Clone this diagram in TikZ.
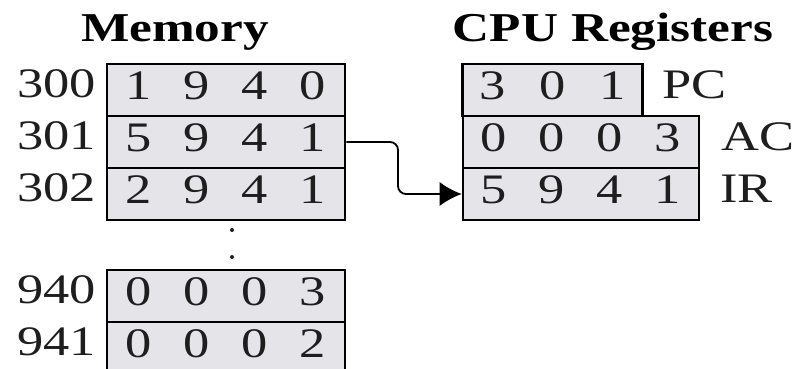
\documentclass[tikz,border=0pt]{standalone}
\usepackage{fontspec}
\setmainfont{Liberation Serif}[FakeStretch=1.25]
\usetikzlibrary{arrows.meta}
\definecolor{cellfill}{RGB}{229,228,232}
\definecolor{ink}{RGB}{30,30,30}
\begin{document}
\begin{tikzpicture}[x=1pt,y=-1pt,
  font=\fontsize{42}{48}\selectfont,
  cell/.style={draw=black, line width=2.6pt, fill=cellfill, inner sep=0pt, minimum height=52pt, text depth=8pt, text=ink},
  addr/.style={anchor=east, inner sep=0pt, text=ink},
  reglabel/.style={anchor=west, inner sep=0pt, text=ink},
  title/.style={inner sep=0pt, font=\fontsize{41}{48}\selectfont\bfseries}]
\useasboundingbox (0,0) rectangle (793,368);
\clip (0,0) rectangle (793,368);
\newcommand\dgts[2]{\makebox[#1pt]{#2}}
% titles
\node[title] (memtitle) at (175,32) {Memory};
\node[title] (cputitle) at (613,32) {CPU Registers};
% memory rows
\node[cell, minimum width=238pt] (m300) at (226,90) {\dgts{58}{1}\dgts{58}{9}\dgts{58}{4}\dgts{58}{0}};
\node[cell, minimum width=238pt] (m301) at (226,142) {\dgts{58}{5}\dgts{58}{9}\dgts{58}{4}\dgts{58}{1}};
\node[cell, minimum width=238pt] (m302) at (226,194) {\dgts{58}{2}\dgts{58}{9}\dgts{58}{4}\dgts{58}{1}};
\node[cell, minimum width=238pt] (m940) at (226,296) {\dgts{58}{0}\dgts{58}{0}\dgts{58}{0}\dgts{58}{3}};
\node[cell, minimum width=238pt] (m941) at (226,348) {\dgts{58}{0}\dgts{58}{0}\dgts{58}{0}\dgts{58}{2}};
% addresses
\node[addr] (a300) at (96,84) {300};
\node[addr] (a301) at (96,136) {301};
\node[addr] (a302) at (96,188) {302};
\node[addr] (a940) at (96,290) {940};
\node[addr] (a941) at (96,342) {941};
% ellipsis dots
\fill[ink] (232,230) circle (2pt);
\fill[ink] (232,257) circle (2pt);
% registers
\node[cell, minimum width=179pt] (pc) at (552.5,90) {\dgts{60}{3}\dgts{60}{0}\dgts{60}{1}};
\node[cell, minimum width=236pt] (ac) at (581,142) {\dgts{58}{0}\dgts{58}{0}\dgts{58}{0}\dgts{58}{3}};
\node[cell, minimum width=236pt] (ir) at (581,194) {\dgts{58}{5}\dgts{58}{9}\dgts{58}{4}\dgts{58}{1}};
\node[reglabel] (pclab) at (662,85) {PC};
\node[reglabel] (aclab) at (721,137) {AC};
\node[reglabel] (irlab) at (720,189) {IR};
% arrow
\coordinate (bend) at (398,168);
\draw[line width=1.8pt, rounded corners=8pt, -{Latex[length=22pt,width=24pt]}] (m301.east) -| (bend) |- (ir.west);
\end{tikzpicture}
\end{document}
